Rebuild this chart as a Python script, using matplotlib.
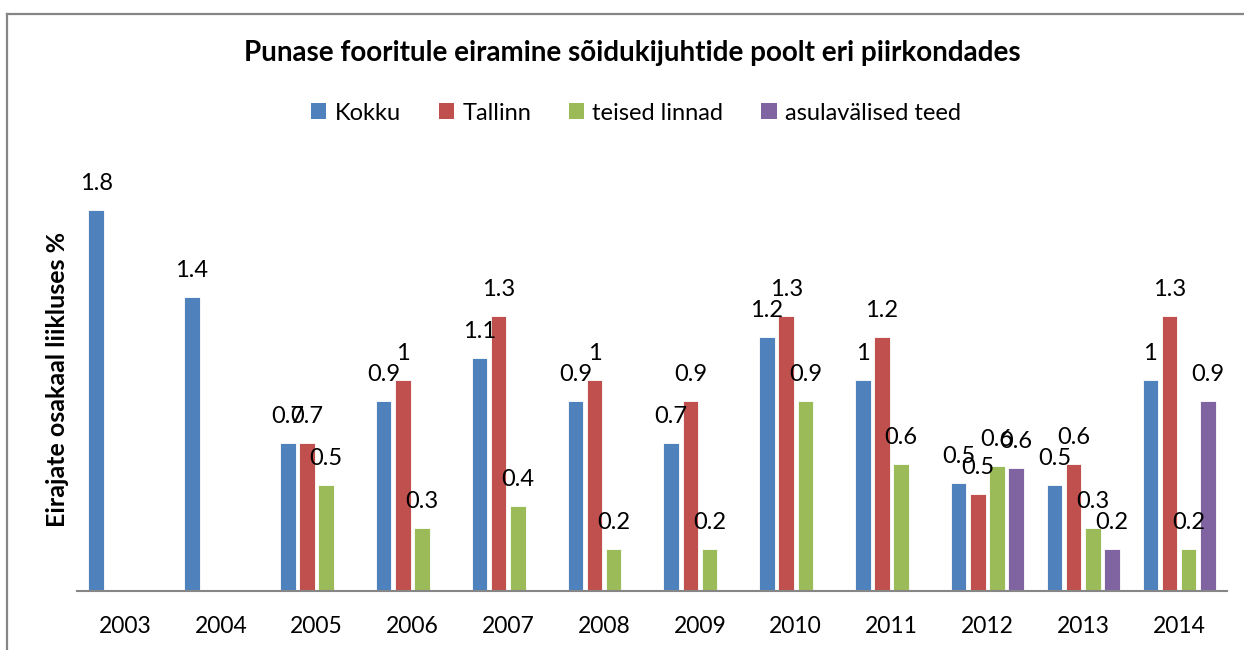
import matplotlib
matplotlib.use("Agg")
import matplotlib.pyplot as plt
import numpy as np
from matplotlib.patches import Patch

plt.rcParams['font.family'] = ['Lato', 'DejaVu Sans']

years = ["2003", "2004", "2005", "2006", "2007", "2008", "2009", "2010", "2011", "2012", "2013", "2014"]
series_names = ["Kokku", "Tallinn", "teised linnad", "asulavälised teed"]
kokku = [1.8, 1.39, 0.7, 0.9, 1.1, 0.9, 0.7, 1.2, 1.0, 0.51, 0.5, 1.0]
tallinn = [None, None, 0.7, 1.0, 1.3, 1.0, 0.9, 1.3, 1.2, 0.46, 0.6, 1.3]
teised = [None, None, 0.5, 0.3, 0.4, 0.2, 0.2, 0.9, 0.6, 0.59, 0.3, 0.2]
asula = [None, None, None, None, None, None, None, None, None, 0.58, 0.2, 0.9]
colors = ["#4F81BD", "#C0504D", "#9BBB59", "#8064A2"]

W, H = 1244, 650
fig = plt.figure(figsize=(W / 100, H / 100), dpi=100)

# chart frame (only top and left edges visible)
fig.add_artist(plt.Line2D([7 / W, 7 / W], [0, 1 - 13.5 / H], color="#868686", lw=1.6, transform=fig.transFigure))
fig.add_artist(plt.Line2D([7 / W, 1], [1 - 13.5 / H, 1 - 13.5 / H], color="#868686", lw=1.6, transform=fig.transFigure))

ax = fig.add_axes([77 / W, (H - 591) / H, 1150 / W, (591 - 168) / H])
x = np.arange(len(years))
all_series = [kokku, tallinn, teised, asula]
offsets = [-0.3, -0.1, 0.1, 0.3]
bw = 0.162
for vals, off, c in zip(all_series, offsets, colors):
    for xi, v in zip(x, vals):
        if v is None:
            continue
        ax.bar(xi + off, v, width=bw, color=c, edgecolor="white", linewidth=0.6)
        lab = f"{round(v, 1):g}"
        ax.annotate(lab, (xi + off, v), xytext=(0, 16), textcoords="offset pixels",
                    ha="center", va="bottom", fontsize=17, color="black")

ax.set_xlim(-0.5, len(years) - 0.5)
ax.set_ylim(0, 2.0)
ax.set_xticks(x)
ax.set_xticklabels(years, fontsize=16.5)
ax.tick_params(axis="x", length=0, pad=18)
ax.set_yticks([])
for s in ["top", "right", "left"]:
    ax.spines[s].set_visible(False)
ax.spines["bottom"].set_color("#868686")
ax.spines["bottom"].set_linewidth(1.5)

fig.text(632 / W, 1 - 53 / H, "Punase fooritule eiramine sõidukijuhtide poolt eri piirkondades",
         ha="center", va="center", fontsize=20, fontweight="bold")
fig.text(58 / W, 1 - 379 / H, "Eirajate osakaal liikluses %", rotation=90,
         ha="center", va="center", fontsize=18, fontweight="bold")

handles = [Patch(facecolor=c, edgecolor="none") for c in colors]
fig.legend(handles, series_names, loc="center", bbox_to_anchor=(636 / W, 1 - 113 / H),
           ncol=4, frameon=False, fontsize=17, handlelength=0.65, handleheight=0.65,
           handletextpad=0.35, columnspacing=1.6, borderpad=0)

fig.savefig("out.png", dpi=100)
